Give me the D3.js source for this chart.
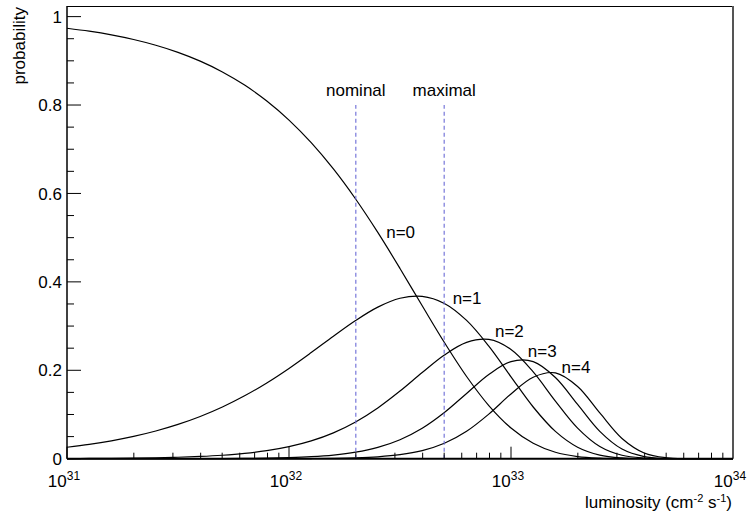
<!DOCTYPE html>
<html>
<head>
<meta charset="utf-8">
<script src="https://cdn.jsdelivr.net/npm/d3@7"></script>
<style>
  html, body { margin: 0; padding: 0; background: #fff; }
  svg { display: block; font-family: "Liberation Sans", Arial, sans-serif; }
</style>
</head>
<body>
<svg id="chart" width="747" height="513"></svg>
<script>
// Sample positions: log10 of luminosity (cm^-2 s^-1)
const logLumi = [31.0, 31.1, 31.2, 31.3, 31.4, 31.5, 31.6, 31.7, 31.8, 31.9,
                 32.0, 32.1, 32.2, 32.3, 32.4, 32.5, 32.6, 32.7, 32.8, 32.9,
                 33.0, 33.1, 33.2, 33.3, 33.4, 33.5, 33.6, 33.7, 33.8, 33.9, 34.0];

// Probability of n interactions per crossing at each luminosity
const probN0 = [0.97369, 0.96699, 0.95862, 0.94818, 0.93521, 0.91913, 0.89928, 0.87490, 0.84514, 0.80911,
                0.76593, 0.71482, 0.65531, 0.58738, 0.51179, 0.43030, 0.34590, 0.26276, 0.18589, 0.12025,
                0.069482, 0.034832, 0.014604, 0.0048888, 0.0012329, 0.00021761, 0.000024521, 0.0000015691, 0.000000049, 0.0, 0.0];
const probN1 = [0.025965, 0.032464, 0.040516, 0.050451, 0.062644, 0.077508, 0.095468, 0.11693, 0.14220, 0.17139,
                0.20425, 0.23998, 0.27697, 0.31253, 0.34282, 0.36286, 0.36721, 0.35118, 0.31278, 0.25471,
                0.18529, 0.11694, 0.061724, 0.026012, 0.0082584, 0.0018351, 0.00026032, 0.000020971, 0.00000083, 0.0, 0.0];
const probN2 = [0.00034620, 0.00054494, 0.00085621, 0.0013422, 0.0020981, 0.0032680, 0.0050674, 0.0078138, 0.011963, 0.018152,
                0.027234, 0.040283, 0.058531, 0.083146, 0.11482, 0.15300, 0.19491, 0.23468, 0.26314, 0.26976,
                0.24706, 0.19630, 0.13044, 0.069202, 0.027659, 0.0077375, 0.0013818, 0.00014014, 0.000006974, 0.00000014, 0.0];
const probN3 = [0.0000031, 0.0000061, 0.000012063, 0.000023805, 0.000046846, 0.00009186, 0.00017932, 0.0003481, 0.00067097, 0.0012817,
                0.0024208, 0.0045080, 0.0082460, 0.014747, 0.025637, 0.043007, 0.068973, 0.10455, 0.14759, 0.19047,
                0.21961, 0.21967, 0.18377, 0.12274, 0.061757, 0.021750, 0.0048897, 0.00062432, 0.000039115, 0.0000010, 0.0];
const probN4 = [0.00000002, 0.00000005, 0.00000013, 0.00000032, 0.00000078, 0.0000019, 0.0000048, 0.000011631, 0.000028224, 0.00006787,
                0.00016139, 0.00037836, 0.00087130, 0.0019616, 0.0042932, 0.0090667, 0.018305, 0.034933, 0.062084, 0.10086,
                0.14641, 0.18437, 0.19418, 0.16327, 0.10342, 0.045853, 0.012977, 0.0020860, 0.00016454, 0.0000053, 0.0];

const seriesNames = ["n=0", "n=1", "n=2", "n=3", "n=4"];
const seriesValues = [probN0, probN1, probN2, probN3, probN4];

// Reference luminosities marked with dashed lines
const markerNames = ["nominal", "maximal"];
const markerLumi = [2e32, 5e32];

const yTickLabels = ["0", "0.2", "0.4", "0.6", "0.8", "1"];
const xDecades = [31, 32, 33, 34];

// Label anchors in data coordinates (luminosity, probability)
const seriesLabelAt = [[2.74e32, 0.50], [5.46e32, 0.350], [8.47e32, 0.275], [1.19e33, 0.230], [1.69e33, 0.194]];

const svg = d3.select("#chart");
const frameLeft = 67, frameRight = 733, frameTop = 6, frameBottom = 458.7;

const x = d3.scaleLog().domain([1e31, 1e34]).range([frameLeft, frameRight]);
const y = d3.scaleLinear().domain([0, 1.024]).range([frameBottom, frameTop]);

const FONT = 17;

// Frame
svg.append("line").attr("x1", frameLeft).attr("x2", frameRight).attr("y1", frameTop + 0.5).attr("y2", frameTop + 0.5)
  .attr("stroke", "#000").attr("stroke-width", 1);
svg.append("line").attr("x1", frameRight).attr("x2", frameRight).attr("y1", frameTop).attr("y2", frameBottom)
  .attr("stroke", "#555").attr("stroke-width", 2);

// Curves
const line = d3.line()
  .x((d, i) => x(Math.pow(10, logLumi[i])))
  .y(d => y(d))
  .curve(d3.curveCatmullRom.alpha(0.5));

svg.append("g").selectAll("path").data(seriesValues).join("path")
  .attr("d", d => line(d))
  .attr("fill", "none")
  .attr("stroke", "#000")
  .attr("stroke-width", 1.2);

// Marker lines
markerLumi.forEach((L, i) => {
  svg.append("line")
    .attr("x1", x(L)).attr("x2", x(L))
    .attr("y1", y(0)).attr("y2", y(0.8))
    .attr("stroke", "#6b6bd6").attr("stroke-width", 1.1)
    .attr("stroke-dasharray", "4,3");
  svg.append("text")
    .attr("x", x(L)).attr("y", y(0.82))
    .attr("text-anchor", "middle")
    .attr("font-size", FONT)
    .text(markerNames[i]);
});

// Series labels
seriesNames.forEach((name, i) => {
  svg.append("text")
    .attr("x", x(seriesLabelAt[i][0]))
    .attr("y", y(seriesLabelAt[i][1]))
    .attr("font-size", FONT)
    .text(name);
});

// Y axis
const yAxis = svg.append("g");
yAxis.append("line").attr("x1", frameLeft).attr("x2", frameLeft).attr("y1", frameTop).attr("y2", frameBottom)
  .attr("stroke", "#000").attr("stroke-width", 1.5);
d3.range(0, 21).forEach(k => {
  const v = k * 0.05;
  const major = k % 4 === 0;
  yAxis.append("line")
    .attr("x1", frameLeft).attr("x2", frameLeft + (major ? 14 : 7))
    .attr("y1", y(v)).attr("y2", y(v))
    .attr("stroke", "#000").attr("stroke-width", 1);
});
yTickLabels.forEach((t, i) => {
  yAxis.append("text")
    .attr("x", 62).attr("y", y(i * 0.2))
    .attr("dy", "0.36em")
    .attr("text-anchor", "end")
    .attr("font-size", FONT)
    .text(t);
});
svg.append("text")
  .attr("transform", `translate(25,7) rotate(-90)`)
  .attr("text-anchor", "end")
  .attr("font-size", FONT)
  .text("probability");

// X axis
const xAxis = svg.append("g");
xAxis.append("line").attr("x1", frameLeft).attr("x2", frameRight).attr("y1", frameBottom).attr("y2", frameBottom)
  .attr("stroke", "#000").attr("stroke-width", 2);
xDecades.slice(0, -1).forEach(dec => {
  for (let m = 1; m <= 9; m++) {
    const v = m * Math.pow(10, dec);
    const major = m === 1;
    xAxis.append("line")
      .attr("x1", x(v)).attr("x2", x(v))
      .attr("y1", frameBottom).attr("y2", frameBottom - (major ? 12 : 6))
      .attr("stroke", "#000").attr("stroke-width", 1);
  }
});
xDecades.forEach(dec => {
  const t = xAxis.append("text")
    .attr("x", x(Math.pow(10, dec)) - 3)
    .attr("y", 487)
    .attr("text-anchor", "middle")
    .attr("font-size", FONT);
  t.append("tspan").text("10");
  t.append("tspan").attr("font-size", 12).attr("dy", -7).text(String(dec));
});

const title = svg.append("text")
  .attr("x", 732).attr("y", 508)
  .attr("text-anchor", "end")
  .attr("font-size", FONT);
title.append("tspan").text("luminosity (cm");
title.append("tspan").attr("font-size", 11).attr("dy", -6).text("-2");
title.append("tspan").attr("dy", 6).text(" s");
title.append("tspan").attr("font-size", 11).attr("dy", -6).text("-1");
title.append("tspan").attr("dy", 6).text(")");
</script>
</body>
</html>
